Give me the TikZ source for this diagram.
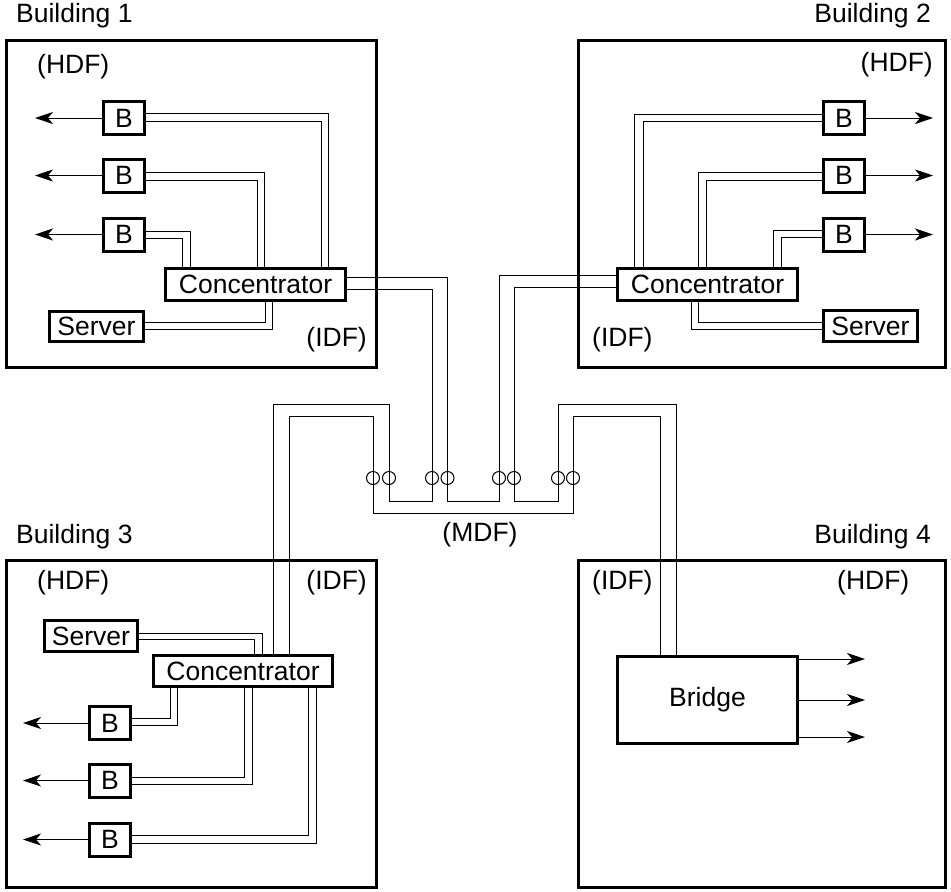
\documentclass[tikz,border=0pt]{standalone}
\usepackage{fontspec}
\setmainfont{Liberation Sans}
\usetikzlibrary{arrows.meta}
\begin{document}
\begin{tikzpicture}[x=1pt,y=-1pt,
  bldg/.style={draw,line width=3pt,inner sep=0pt},
  unit/.style={draw,line width=3pt,inner sep=0pt,font=\fontsize{26.5}{31}\selectfont},
  lbl/.style={inner sep=0pt,font=\fontsize{26.5}{31}\selectfont},
  wire/.style={line width=1pt},
  arr/.style={line width=1pt,-{Stealth[length=18pt,width=12pt,inset=5pt]}},
  jack/.style={draw,circle,line width=1pt,minimum size=13pt,inner sep=0pt}]
\useasboundingbox (0,0) rectangle (951,892);
% buildings
\node[bldg,minimum width=370pt,minimum height=327pt] (bd1) at (191.5,204) {};
\node[bldg,minimum width=367pt,minimum height=327pt] (bd2) at (762,204) {};
\node[bldg,minimum width=370pt,minimum height=327pt] (bd3) at (191.5,724) {};
\node[bldg,minimum width=367pt,minimum height=327pt] (bd4) at (762,724) {};
% labels
\node[lbl,anchor=west] (t1) at (16,16) {Building 1};
\node[lbl,anchor=east] (t2) at (931,16) {Building 2};
\node[lbl,anchor=west] (t3) at (16,537) {Building 3};
\node[lbl,anchor=east] (t4) at (931,537) {Building 4};
\node[lbl,anchor=west] (h1) at (37,67) {(HDF)};
\node[lbl,anchor=east] (i1) at (367,340) {(IDF)};
\node[lbl,anchor=east] (h2) at (933,65) {(HDF)};
\node[lbl,anchor=west] (i2) at (592,340) {(IDF)};
\node[lbl,anchor=west] (h3) at (37,583) {(HDF)};
\node[lbl,anchor=east] (i3) at (367,583) {(IDF)};
\node[lbl,anchor=west] (i4) at (592,583) {(IDF)};
\node[lbl,anchor=west] (h4) at (837,583) {(HDF)};
\node[lbl] (mdf) at (480,535) {(MDF)};
% building 1
\node[unit,minimum width=41pt,minimum height=33pt] (b11) at (124,118) {B};
\node[unit,minimum width=41pt,minimum height=33pt] (b12) at (124,175.5) {B};
\node[unit,minimum width=41pt,minimum height=33pt] (b13) at (124,234.5) {B};
\node[unit,minimum width=180pt,minimum height=32pt] (c1) at (255.5,284.5) {Concentrator};
\node[unit,minimum width=94pt,minimum height=30pt] (s1) at (96.5,326.5) {Server};
% building 2
\node[unit,minimum width=41pt,minimum height=33pt] (b21) at (844,118) {B};
\node[unit,minimum width=41pt,minimum height=33pt] (b22) at (844,175.5) {B};
\node[unit,minimum width=41pt,minimum height=33pt] (b23) at (844,234.5) {B};
\node[unit,minimum width=180pt,minimum height=32pt] (c2) at (707.5,284.5) {Concentrator};
\node[unit,minimum width=94pt,minimum height=31pt] (s2) at (870.5,326) {Server};
% building 3
\node[unit,minimum width=93pt,minimum height=31pt] (s3) at (91,636) {Server};
\node[unit,minimum width=179pt,minimum height=31pt] (c3) at (243,671) {Concentrator};
\node[unit,minimum width=41pt,minimum height=33pt] (b31) at (110,723) {B};
\node[unit,minimum width=41pt,minimum height=33pt] (b32) at (110,780.5) {B};
\node[unit,minimum width=41pt,minimum height=33pt] (b33) at (110,839.5) {B};
% building 4
\node[unit,minimum width=180pt,minimum height=87pt] (br) at (707.5,700) {Bridge};
% building 1 wiring
\draw[wire] (b11.east |- 0,113) -| (328,0 |- c1.north);
\draw[wire] (b11.east |- 0,121) -| (321,0 |- c1.north);
\draw[wire] (b12.east |- 0,172) -| (264,0 |- c1.north);
\draw[wire] (b12.east |- 0,180) -| (257,0 |- c1.north);
\draw[wire] (b13.east |- 0,231) -| (190,0 |- c1.north);
\draw[wire] (b13.east |- 0,238) -| (182,0 |- c1.north);
\draw[wire] (s1.east |- 0,322) -| (265,0 |- c1.south);
\draw[wire] (s1.east |- 0,329) -| (272,0 |- c1.south);
\draw[arr] (b11.west) -- (35,0 |- b11.west);
\draw[arr] (b12.west) -- (35,0 |- b12.west);
\draw[arr] (b13.west) -- (35,0 |- b13.west);
% building 2 wiring
\draw[wire] (b21.west |- 0,114) -| (634,0 |- c2.north);
\draw[wire] (b21.west |- 0,121) -| (643,0 |- c2.north);
\draw[wire] (b22.west |- 0,172) -| (698,0 |- c2.north);
\draw[wire] (b22.west |- 0,180) -| (706,0 |- c2.north);
\draw[wire] (b23.west |- 0,230) -| (773,0 |- c2.north);
\draw[wire] (b23.west |- 0,237) -| (781,0 |- c2.north);
\draw[wire] (s2.west |- 0,322) -| (698,0 |- c2.south);
\draw[wire] (s2.west |- 0,329) -| (691,0 |- c2.south);
\draw[arr] (b21.east) -- (933,0 |- b21.east);
\draw[arr] (b22.east) -- (933,0 |- b22.east);
\draw[arr] (b23.east) -- (933,0 |- b23.east);
% building 3 wiring
\draw[wire] (s3.east |- 0,633) -| (262,0 |- c3.north);
\draw[wire] (s3.east |- 0,639) -| (254,0 |- c3.north);
\draw[wire] (b31.east |- 0,718) -| (170,0 |- c3.south);
\draw[wire] (b31.east |- 0,725) -| (177,0 |- c3.south);
\draw[wire] (b32.east |- 0,777) -| (244,0 |- c3.south);
\draw[wire] (b32.east |- 0,784) -| (252,0 |- c3.south);
\draw[wire] (b33.east |- 0,835) -| (308,0 |- c3.south);
\draw[wire] (b33.east |- 0,843) -| (316,0 |- c3.south);
\draw[arr] (b31.west) -- (23,0 |- b31.west);
\draw[arr] (b32.west) -- (23,0 |- b32.west);
\draw[arr] (b33.west) -- (23,0 |- b33.west);
% building 4 outputs
\draw[arr] (br.east |- 0,659) -- (865,659);
\draw[arr] (br.east |- 0,700) -- (865,700);
\draw[arr] (br.east |- 0,737) -- (865,737);
% MDF cross-connects
\draw[wire] (289,0 |- c3.north) -- (289,416) -- (373,416) -- (373,513) -- (573,513) -- (573,416) -- (660,416) -- (660,0 |- br.north);
\draw[wire] (273,0 |- c3.north) -- (273,404) -- (389,404) -- (389,501) -- (432,501) -- (432,289) -- (c1.east |- 0,289);
\draw[wire] (c1.east |- 0,277) -- (447.5,277) -- (447.5,501) -- (499,501) -- (499,275) -- (c2.west |- 0,275);
\draw[wire] (c2.west |- 0,287) -- (514,287) -- (514,501) -- (558,501) -- (558,404) -- (676,404) -- (676,0 |- br.north);
% jacks
\foreach \n/\x in {j1/373,j2/389,j3/432,j4/447.5,j5/499,j6/514,j7/558,j8/573}
  \node[jack] (\n) at (\x,478) {};
\end{tikzpicture}
\end{document}
